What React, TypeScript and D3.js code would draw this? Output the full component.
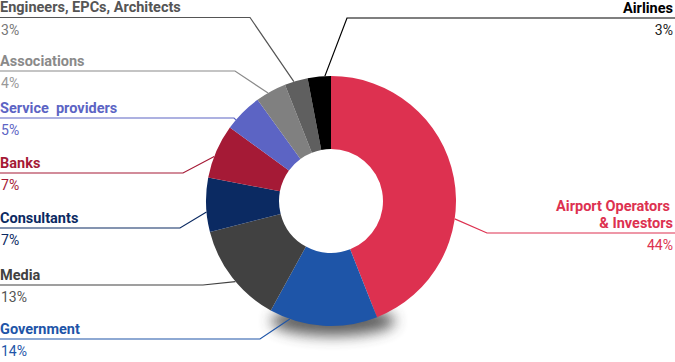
import { arc, pie, PieArcDatum } from 'd3';

const width = 675;
const height = 362;
const cx = 331;
const cy = 201;
const outerRadius = 125;
const innerRadius = 52;

// clockwise from 12 o'clock
const categories = [
	'Airport Operators|& Investors',
	'Government',
	'Media',
	'Consultants',
	'Banks',
	'Service  providers',
	'Associations',
	'Engineers, EPCs, Architects',
	'Airlines',
];
const shares = [44, 14, 13, 7, 7, 5, 4, 3, 3];
const sliceColors = [
	'#dd3150',
	'#1e55a8',
	'#414141',
	'#0b2a62',
	'#a51a36',
	'#5c64c4',
	'#808080',
	'#5f5f5f',
	'#000000',
];
const titleColors = [
	'#dd3150',
	'#1e55a8',
	'#414141',
	'#0b2a62',
	'#a51a36',
	'#5c64c4',
	'#8a8a8a',
	'#555555',
	'#000000',
];
const pctColors = [
	'#dd3150',
	'#1e55a8',
	'#555555',
	'#0b2a62',
	'#a51a36',
	'#5c64c4',
	'#999999',
	'#777777',
	'#222222',
];

// label layout: side, y of leader line, x of elbow, where on the slice the leader hits (0..1)
const labelLayout = [
	{ side: 'right', lineY: 233, elbowX: 487, at: 0.62 },
	{ side: 'left', lineY: 339, elbowX: 260, at: 0.81 },
	{ side: 'left', lineY: 285, elbowX: 203, at: 0.45 },
	{ side: 'left', lineY: 228, elbowX: 180, at: 0.37 },
	{ side: 'left', lineY: 173, elbowX: 183, at: 0.4 },
	{ side: 'left', lineY: 118, elbowX: 234, at: 0.25 },
	{ side: 'left', lineY: 71, elbowX: 235, at: 0.4 },
	{ side: 'left', lineY: 17.5, elbowX: 250, at: 0.4 },
	{ side: 'right', lineY: 18, elbowX: 347, at: 0.74 },
];

interface Slice {
	label: string;
	value: number;
	i: number;
}

const data: Slice[] = categories.map((label, i) => ({ label, value: shares[i], i }));

const App = () => {
	const arcs = pie<Slice>()
		.value(d => d.value)
		.sort(null)(data);

	const arcGen = arc<PieArcDatum<Slice>>()
		.innerRadius(innerRadius)
		.outerRadius(outerRadius);

	return (
		<svg
			width={width}
			height={height}
			style={{ position: 'absolute', left: 0, top: 0, fontFamily: 'Roboto, sans-serif' }}
		>
			<defs>
				<filter id="shadow" x="-50%" y="-100%" width="200%" height="300%">
					<feGaussianBlur stdDeviation="7" />
				</filter>
			</defs>
			<ellipse
				cx={cx + 2}
				cy={cy + 120}
				rx={62}
				ry={15}
				fill="#444"
				opacity={0.85}
				filter="url(#shadow)"
			/>
			<g transform={`translate(${cx},${cy})`}>
				{arcs.map(a => (
					<path key={a.data.label} d={arcGen(a) || ''} fill={sliceColors[a.data.i]} />
				))}
			</g>
			{arcs.map(a => {
				const i = a.data.i;
				const lay = labelLayout[i];
				const ang = a.startAngle + (a.endAngle - a.startAngle) * lay.at;
				const ax = cx + outerRadius * Math.sin(ang);
				const ay = cy - outerRadius * Math.cos(ang);
				const lines = a.data.label.split('|');
				const left = lay.side === 'left';
				const x0 = left ? 0 : width;
				const tx = left ? 0 : width - 4;
				const anchor = left ? 'start' : 'end';
				const titleY = lay.lineY - 5.5;
				return (
					<g key={a.data.label}>
						<polyline
							points={`${x0},${lay.lineY} ${lay.elbowX},${lay.lineY} ${ax},${ay}`}
							fill="none"
							stroke={titleColors[i]}
							strokeWidth={1.2}
						/>
						{lines.map((t, k) => (
							<text
								key={t}
								x={left ? tx : tx + (k === lines.length - 1 ? 2 : -1)}
								y={titleY - (lines.length - 1 - k) * 17}
								textAnchor={anchor}
								fontSize={14.5}
								fontWeight="bold"
								fill={titleColors[i]}
								style={{ whiteSpace: 'pre' }}
							>
								{t}
							</text>
						))}
						<text
							x={left ? 1 : width - 2}
							y={lay.lineY + 17}
							textAnchor={anchor}
							fontSize={14}
							fill={pctColors[i]}
						>
							{a.data.value}%
						</text>
					</g>
				);
			})}
		</svg>
	);
};

export default App;
